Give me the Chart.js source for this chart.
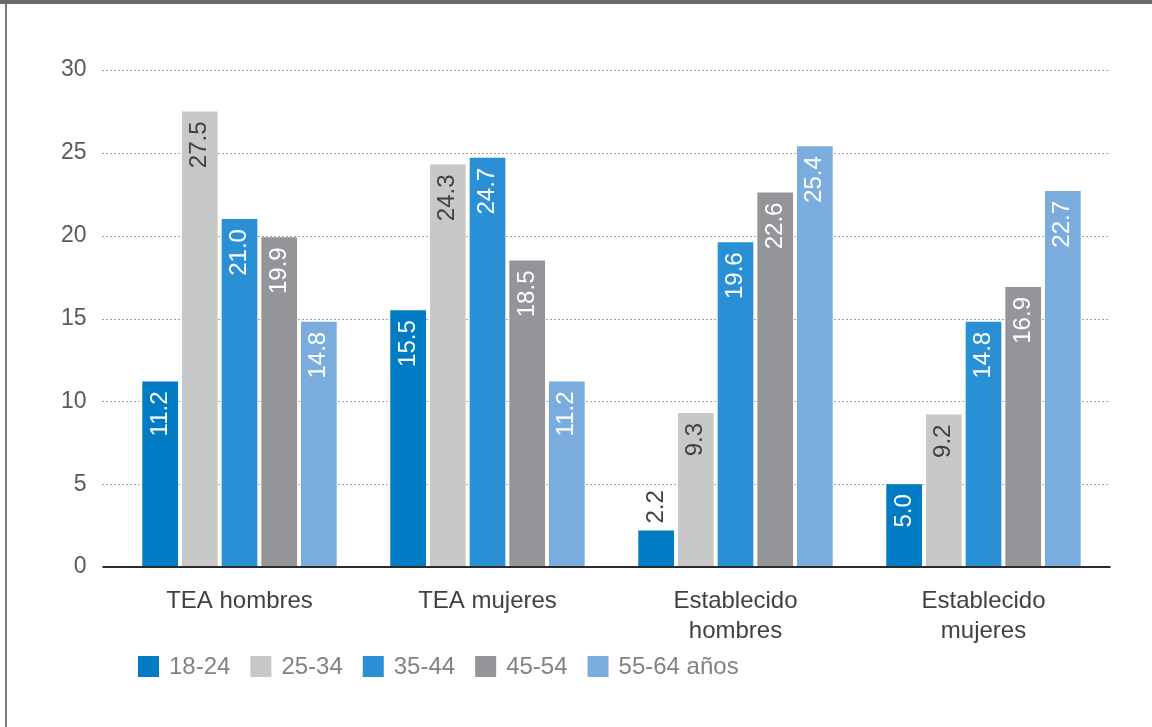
<!DOCTYPE html>
<html>
<head>
<meta charset="utf-8">
<script src="https://cdn.jsdelivr.net/npm/chart.js@4"></script>
<style>
  html, body { margin: 0; padding: 0; background: #fff; }
  #wrap { position: relative; width: 1152px; height: 727px; overflow: hidden; }
  #chart { position: absolute; left: 0; top: 0; }
  #topbar { position: absolute; left: 0; top: 0; width: 1152px; height: 4px; background: #6b6b6b; }
  #leftbar { position: absolute; left: 5px; top: 4px; width: 2px; height: 723px; background: #7a7a7a; }
</style>
</head>
<body>
<div id="wrap">
  <canvas id="chart" width="1152" height="727"></canvas>
  <div id="topbar"></div>
  <div id="leftbar"></div>
</div>
<script>
// Categories and age-group series
const categories = ['TEA hombres', 'TEA mujeres', ['Establecido', 'hombres'], ['Establecido', 'mujeres']];
const ageGroups = ['18-24', '25-34', '35-44', '45-54', '55-64 años'];
const age18_24 = [11.2, 15.5, 2.2, 5.0];
const age25_34 = [27.5, 24.3, 9.3, 9.2];
const age35_44 = [21.0, 24.7, 19.6, 14.8];
const age45_54 = [19.9, 18.5, 22.6, 16.9];
const age55_64 = [14.8, 11.2, 25.4, 22.7];
const yMax = 30;
const yStep = 5;

const colors = ['#007bc4', '#c7c8ca', '#2a90d5', '#939598', '#7aadde'];
const valueColors = ['#ffffff', '#414042', '#ffffff', '#ffffff', '#ffffff'];
const FONT = '"Liberation Sans", Arial, sans-serif';

// dotted grid behind bars, solid baseline on top
const gridPlugin = {
  id: 'dottedGrid',
  beforeDatasetsDraw(chart) {
    const { ctx, chartArea } = chart;
    const y = chart.scales.y;
    ctx.save();
    ctx.strokeStyle = '#444';
    ctx.lineWidth = 1;
    ctx.setLineDash([1, 3]);
    for (let v = yStep; v <= yMax; v += yStep) {
      const py = Math.round(y.getPixelForValue(v)) + 0.5;
      ctx.beginPath();
      ctx.moveTo(chartArea.left - 13, py);
      ctx.lineTo(chartArea.right + 3, py);
      ctx.stroke();
    }
    ctx.restore();
  },
  afterDatasetsDraw(chart) {
    const { ctx, chartArea } = chart;
    const py = chart.scales.y.getPixelForValue(0);
    ctx.save();
    ctx.strokeStyle = '#2b2b2b';
    ctx.lineWidth = 2;
    ctx.beginPath();
    ctx.moveTo(chartArea.left - 13, py);
    ctx.lineTo(chartArea.right + 3, py);
    ctx.stroke();
    ctx.restore();
  }
};

// vertical value labels, inside the bar top or just above short bars
const valuePlugin = {
  id: 'valueLabels',
  afterDatasetsDraw(chart) {
    const ctx = chart.ctx;
    const pad = 10;
    ctx.save();
    ctx.font = '24px ' + FONT;
    ctx.textBaseline = 'middle';
    chart.data.datasets.forEach((ds, di) => {
      chart.getDatasetMeta(di).data.forEach((bar, i) => {
        const text = ds.data[i].toFixed(1);
        const w = ctx.measureText(text).width;
        const h = bar.base - bar.y;
        ctx.save();
        ctx.translate(bar.x, bar.y);
        ctx.rotate(-Math.PI / 2);
        if (h > w + pad * 2) {
          ctx.textAlign = 'right';
          ctx.fillStyle = valueColors[di];
          ctx.fillText(text, -pad, 0);
        } else {
          ctx.textAlign = 'left';
          ctx.fillStyle = '#414042';
          ctx.fillText(text, 7, 0);
        }
        ctx.restore();
      });
    });
    ctx.restore();
  }
};

// legend row under the axis
const legendPlugin = {
  id: 'ageLegend',
  afterDraw(chart) {
    const ctx = chart.ctx;
    let x = 138;
    const top = 656;
    ctx.save();
    ctx.font = '24px ' + FONT;
    ctx.textBaseline = 'middle';
    ctx.textAlign = 'left';
    ageGroups.forEach((g, i) => {
      ctx.fillStyle = colors[i];
      ctx.fillRect(x, top, 21, 21);
      x += 21 + 10;
      ctx.fillStyle = '#808285';
      ctx.fillText(g, x, top + 11);
      x += ctx.measureText(g).width + 20;
    });
    ctx.restore();
  }
};

const seriesValues = [age18_24, age25_34, age35_44, age45_54, age55_64];

new Chart(document.getElementById('chart'), {
  type: 'bar',
  data: {
    labels: categories,
    datasets: ageGroups.map((g, i) => ({
      label: g,
      data: seriesValues[i],
      backgroundColor: colors[i],
      borderWidth: 0,
      categoryPercentage: 0.8,
      barPercentage: 0.9
    }))
  },
  options: {
    responsive: false,
    animation: false,
    devicePixelRatio: 1,
    layout: { padding: { top: 70, right: 44.5, left: 0, bottom: 0 } },
    plugins: {
      legend: { display: false },
      tooltip: { enabled: false }
    },
    scales: {
      x: {
        grid: { display: false },
        border: { display: false },
        ticks: {
          font: { family: FONT, size: 24, lineHeight: 1.25 },
          color: '#414042',
          padding: 11,
          maxRotation: 0,
          autoSkip: false
        },
        afterFit: s => { s.height = 160; }
      },
      y: {
        min: 0,
        max: yMax,
        grid: { display: false },
        border: { display: false },
        ticks: {
          stepSize: yStep,
          font: { family: FONT, size: 23 },
          color: '#58595b',
          padding: 21
        },
        afterFit: s => { s.width = 115.5; }
      }
    }
  },
  plugins: [gridPlugin, valuePlugin, legendPlugin]
});
</script>
</body>
</html>
